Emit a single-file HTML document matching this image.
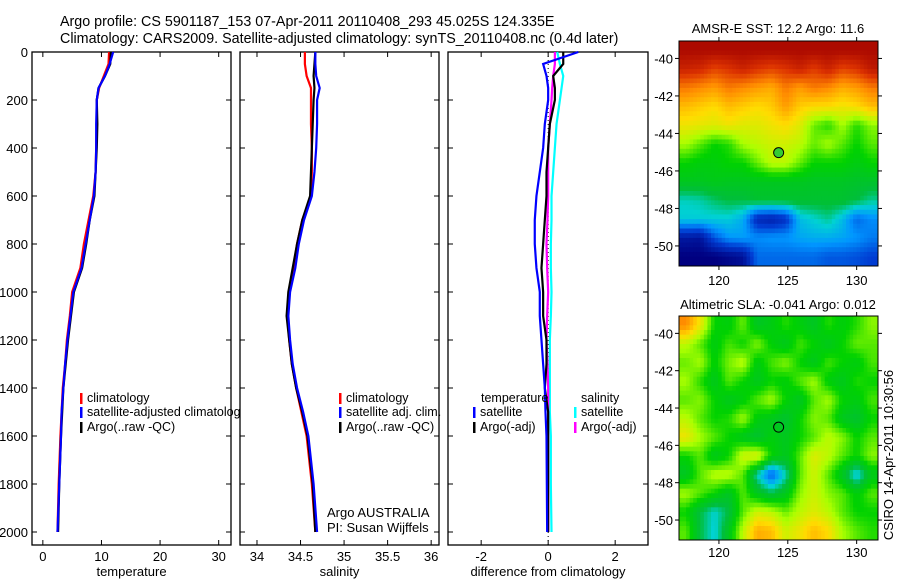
<!DOCTYPE html>
<html><head><meta charset="utf-8"><style>
body{margin:0;background:#fff;width:900px;height:580px;overflow:hidden}
svg{font-family:"Liberation Sans",sans-serif;font-size:13px}
</style></head><body>
<svg id="c" width="900" height="580" viewBox="0 0 900 580">
<g id="g"></g>
<text x="60" y="26" font-size="14.3">Argo profile: CS 5901187_153 07-Apr-2011 20110408_293 45.025S 124.335E</text>
<text x="60" y="43" font-size="14.3">Climatology: CARS2009. Satellite-adjusted climatology: synTS_20110408.nc (0.4d later)</text>
<text x="778" y="33" text-anchor="middle">AMSR-E SST: 12.2 Argo: 11.6</text>
<text x="778" y="309" text-anchor="middle">Altimetric SLA: -0.041 Argo: 0.012</text>
<text transform="translate(893,455) rotate(-90)" text-anchor="middle">CSIRO 14-Apr-2011 10:30:56</text>
</svg>
<script>
// depth levels shared by profiles
const depths=[0,50,100,150,200,300,400,500,600,700,800,900,1000,1100,1200,1300,1400,1500,1600,1800,2000];
const tempClim=[11.3,11.2,10.4,9.6,9.2,9.2,9.1,9.0,8.6,7.8,7.0,6.4,5.0,4.6,4.1,3.8,3.4,3.2,3.0,2.7,2.5];
const tempSat=[12.0,11.4,10.6,9.5,9.2,9.1,9.1,9.0,8.7,8.0,7.3,6.6,5.2,4.7,4.2,3.8,3.5,3.2,3.1,2.8,2.5];
const tempArgo=[11.6,11.5,10.6,9.5,9.2,9.3,9.2,9.0,8.8,8.0,7.4,6.7,5.3,4.8,4.3,3.9,3.5,3.3,3.1,2.8,2.6];
const salClim=[34.55,34.55,34.57,34.62,34.62,34.62,34.63,34.63,34.62,34.52,34.46,34.42,34.37,34.35,34.37,34.40,34.45,34.51,34.57,34.63,34.67];
const salSat=[34.67,34.67,34.68,34.72,34.69,34.69,34.68,34.66,34.63,34.54,34.48,34.44,34.38,34.36,34.38,34.41,34.46,34.53,34.59,34.65,34.69];
const salArgo=[34.67,34.66,34.65,34.66,34.65,34.64,34.63,34.62,34.61,34.52,34.46,34.41,34.36,34.34,34.37,34.40,34.45,34.52,34.58,34.64,34.67];
const dTempSat=[0.9,-0.15,-0.05,0.0,0.0,-0.1,-0.15,-0.25,-0.35,-0.4,-0.4,-0.35,-0.25,-0.25,-0.2,-0.15,-0.1,-0.08,-0.05,-0.04,-0.03];
const dTempArgo=[0.45,0.45,0.15,0.2,0.2,0.05,0.0,-0.05,-0.05,-0.1,-0.15,-0.2,-0.15,-0.15,-0.05,-0.05,-0.1,0.0,0.0,0.0,0.0];
const dSalSat=[0.27,0.35,0.45,0.4,0.35,0.25,0.2,0.15,0.1,0.1,0.08,0.08,0.1,0.08,0.05,0.05,0.05,0.05,0.08,0.08,0.1];
const dSalArgo=[0.2,0.2,0.15,0.12,0.1,0.05,0.0,0.0,0.0,-0.02,-0.05,-0.03,0.0,-0.03,-0.05,-0.02,0.0,0.0,0.0,0.0,0.0];
// maps (normalised colour values), rows top(-39.5) -> bottom(-50.5), cols 117.5 -> 131
const sstGrid=[
[.98,.98,.98,.98,.98,.98,.98,.98,.98,.98,.98,.98,.98,.98],
[.93,.92,.88,.9,.93,.9,.88,.9,.93,.89,.93,.88,.9,.95],
[.82,.8,.78,.82,.8,.78,.76,.82,.78,.82,.8,.76,.78,.82],
[.74,.72,.7,.74,.72,.7,.72,.78,.72,.7,.7,.68,.7,.74],
[.68,.67,.66,.68,.66,.66,.68,.7,.66,.56,.52,.6,.52,.58],
[.6,.55,.5,.52,.6,.62,.64,.64,.62,.56,.6,.55,.5,.55],
[.5,.48,.48,.5,.5,.56,.62,.62,.56,.5,.5,.5,.47,.5],
[.45,.45,.46,.45,.45,.45,.45,.45,.45,.44,.44,.44,.43,.43],
[.34,.35,.38,.4,.4,.42,.42,.42,.42,.42,.42,.42,.4,.36],
[.32,.32,.32,.32,.28,.1,.08,.12,.3,.33,.36,.3,.2,.24],
[.06,.05,.18,.25,.26,.24,.25,.25,.27,.28,.28,.27,.25,.22],
[.0,.0,.0,.02,.04,.2,.2,.2,.2,.2,.18,.18,.17,.15]];
const slaGrid=[
[.8,.68,.5,.48,.56,.44,.47,.52,.48,.44,.52,.48,.52,.58],
[.62,.55,.47,.54,.5,.58,.49,.45,.54,.5,.45,.5,.56,.55],
[.56,.6,.49,.57,.62,.47,.54,.58,.5,.45,.54,.5,.47,.54],
[.6,.52,.45,.55,.5,.45,.5,.48,.55,.6,.48,.45,.52,.5],
[.55,.58,.5,.45,.48,.55,.6,.5,.44,.55,.6,.5,.47,.54],
[.62,.55,.5,.52,.6,.48,.45,.42,.5,.58,.55,.45,.42,.5],
[.68,.6,.55,.5,.45,.42,.48,.45,.5,.55,.62,.58,.5,.55],
[.5,.55,.45,.5,.64,.66,.5,.45,.55,.66,.62,.55,.5,.58],
[.44,.55,.62,.62,.55,.34,.18,.34,.55,.64,.55,.44,.3,.45],
[.6,.55,.5,.44,.55,.45,.4,.45,.58,.64,.58,.55,.48,.55],
[.5,.4,.33,.4,.55,.64,.62,.56,.62,.66,.62,.55,.5,.5],
[.55,.4,.32,.45,.62,.76,.74,.64,.68,.74,.7,.6,.55,.52]];
const NS='http://www.w3.org/2000/svg';
const G=document.getElementById('g');
function mk(t,a,p){const e=document.createElementNS(NS,t);for(const k in a)e.setAttribute(k,a[k]);(p||G).appendChild(e);return e;}
function txt(x,y,s,anchor,p){const e=mk('text',{x:x,y:y,'text-anchor':anchor||'start'},p);e.textContent=s;return e;}
const cmapStops=[[0,0,0,128],[.15,0,60,210],[.25,0,150,255],[.33,0,210,210],[.4,0,190,60],[.5,0,210,0],[.6,170,255,0],[.7,255,220,0],[.8,255,140,0],[.9,220,50,0],[1,160,0,0]];
function cmap(v){v=Math.max(0,Math.min(1,v));for(let i=1;i<cmapStops.length;i++){const a=cmapStops[i-1],b=cmapStops[i];if(v<=b[0]){const f=(v-a[0])/(b[0]-a[0]);return `rgb(${Math.round(a[1]+f*(b[1]-a[1]))},${Math.round(a[2]+f*(b[2]-a[2]))},${Math.round(a[3]+f*(b[3]-a[3]))})`;}}return 'rgb(160,0,0)';}
const yTop=52,yBot=545;
function yD(d){return 52+d*0.24;}
const depthTicks=[0,200,400,600,800,1000,1200,1400,1600,1800,2000];
function panel(name,x0,x1,xmin,xmax,ticks,tickLbl,xtitle,showY){
  const xs=v=>x0+(v-xmin)/(xmax-xmin)*(x1-x0);
  const fr=mk('rect',{x:x0,y:yTop,width:x1-x0,height:yBot-yTop,fill:'#fff',stroke:'#000','stroke-width':1.3});
  
  
  ticks.forEach((t,i)=>{const X=xs(t);
    mk('line',{x1:X,x2:X,y1:yTop,y2:yTop+5,stroke:'#000'});
    mk('line',{x1:X,x2:X,y1:yBot,y2:yBot-5,stroke:'#000'});
    const l=txt(X,561,tickLbl[i],'middle');
    
    });
  depthTicks.forEach(d=>{const Y=yD(d);
    mk('line',{x1:x0,x2:x0+5,y1:Y,y2:Y,stroke:'#000'});
    mk('line',{x1:x1,x2:x1-5,y1:Y,y2:Y,stroke:'#000'});
    if(showY){const l=txt(x0-4,Y+5,String(d),'end');
      
      }});
  const t=txt((x0+x1)/2,576,xtitle,'middle');
  
  
  return xs;
}
function smooth(xs,vals,color,name){
  const pts=depths.map((d,i)=>xs(vals[i])+','+yD(d));
  const p=mk('polyline',{points:pts.join(' '),fill:'none',stroke:color,'stroke-width':2.2});
  
  
}
function legend(x,y,color,label,name){
  mk('rect',{x:x,y:y-9,width:2.5,height:11,fill:color});
  const t=txt(x+7,y,label);
  t.setAttribute('font-size','12.5');
  
  
}
// panel 1
const xT=panel('temperature-panel',32,231,-1.85,32.1,[0,10,20,30],['0','10','20','30'],'temperature',true);
smooth(xT,tempClim,'#f00','temp-climatology-line');
smooth(xT,tempArgo,'#000','temp-argo-line');
smooth(xT,tempSat,'#00f','temp-satellite-line');
legend(80,402,'#f00','climatology','temp-legend-climatology');
legend(80,416,'#00f','satellite-adjusted climatology','temp-legend-satellite');
legend(80,431,'#000','Argo(..raw -QC)','temp-legend-argo');
// panel 2
const xS=panel('salinity-panel',240,439,33.805,36.09,[34,34.5,35,35.5,36],['34','34.5','35','35.5','36'],'salinity',false);
smooth(xS,salClim,'#f00','sal-climatology-line');
smooth(xS,salArgo,'#000','sal-argo-line');
smooth(xS,salSat,'#00f','sal-satellite-line');
legend(339,402,'#f00','climatology','sal-legend-climatology');
legend(339,416,'#00f','satellite adj. clim.','sal-legend-satellite');
legend(339,431,'#000','Argo(..raw -QC)','sal-legend-argo');
const a1=txt(327,517,'Argo AUSTRALIA');
const a2=txt(327,532,'PI: Susan Wijffels');
// panel 3
const xD=panel('difference-panel',448,648,-2.99,2.98,[-2,0,2],['-2','0','2'],'difference from climatology',false);
mk('line',{x1:xD(0),x2:xD(0),y1:yTop,y2:yBot,stroke:'#000','stroke-dasharray':'1,3'});
smooth(xD,dSalSat,'#0ff','diff-sal-satellite-line');
smooth(xD,dSalArgo,'#f0f','diff-sal-argo-line');
smooth(xD,dTempArgo,'#000','diff-temp-argo-line');
smooth(xD,dTempSat,'#00f','diff-temp-satellite-line');
const h1=txt(481,402,'temperature');h1.setAttribute('font-size','12.5');
legend(473,416,'#00f','satellite','diff-legend-temp-satellite');
legend(473,431,'#000','Argo(-adj)','diff-legend-temp-argo');
const h2=txt(581,402,'salinity');h2.setAttribute('font-size','12.5');
legend(574,416,'#0ff','satellite','diff-legend-sal-satellite');
legend(574,431,'#f0f','Argo(-adj)','diff-legend-sal-argo');
// maps
function sample(grid,fr,fc){
  const rows=grid.length,cols=grid[0].length;
  fr=Math.max(0,Math.min(rows-1,fr));fc=Math.max(0,Math.min(cols-1,fc));
  const r0=Math.floor(fr),c0=Math.floor(fc),r1=Math.min(rows-1,r0+1),c1=Math.min(cols-1,c0+1);
  const dr=fr-r0,dc=fc-c0;
  return grid[r0][c0]*(1-dr)*(1-dc)+grid[r0][c1]*(1-dr)*dc+grid[r1][c0]*dr*(1-dc)+grid[r1][c1]*dr*dc;
}
function map(name,grid,top,bot,latTop,latBot,xlabY){
  const L=679,R=878,lonL=117.1,lonR=131.55;
  const lx=v=>L+(v-lonL)/(lonR-lonL)*(R-L);
  const ly=v=>top+(latTop-v)/(latTop-latBot)*(bot-top);
  const rows=grid.length,cols=grid[0].length;
  const sub=4,cw=(R-L)/(cols*sub),ch=(bot-top)/(rows*sub);
  const layer=mk('g',{});
  
  
  for(let r=0;r<rows*sub;r++)for(let c=0;c<cols*sub;c++){
    const v=sample(grid,(r+0.5)/sub-0.5,(c+0.5)/sub-0.5);
    mk('rect',{x:(L+c*cw).toFixed(2),y:(top+r*ch).toFixed(2),width:(cw+0.5).toFixed(2),height:(ch+0.5).toFixed(2),fill:cmap(v)},layer);
  }
  const fr=mk('rect',{x:L,y:top,width:R-L,height:bot-top,fill:'none',stroke:'#000'});
  
  
  [120,125,130].forEach(v=>{const X=lx(v);
    mk('line',{x1:X,x2:X,y1:top,y2:top-4,stroke:'#000'});
    mk('line',{x1:X,x2:X,y1:bot,y2:bot+4,stroke:'#000'});
    const t=txt(X,xlabY,String(v),'middle');});
  [-40,-42,-44,-46,-48,-50].forEach(v=>{const Y=ly(v);
    mk('line',{x1:L,x2:L-4,y1:Y,y2:Y,stroke:'#000'});
    mk('line',{x1:R,x2:R+4,y1:Y,y2:Y,stroke:'#000'});
    const t=txt(673,Y+5,String(v),'end');});
  const d=mk('circle',{cx:lx(124.335),cy:ly(-45.025),r:5,fill:name==='sst-map'?'#3c3':'none',stroke:'#000'});
  
  
}
map('sst-map',sstGrid,41,266,-39.07,-51.07,285);
map('sla-map',slaGrid,316,540,-39.07,-51.07,557);
</script>
</body></html>
